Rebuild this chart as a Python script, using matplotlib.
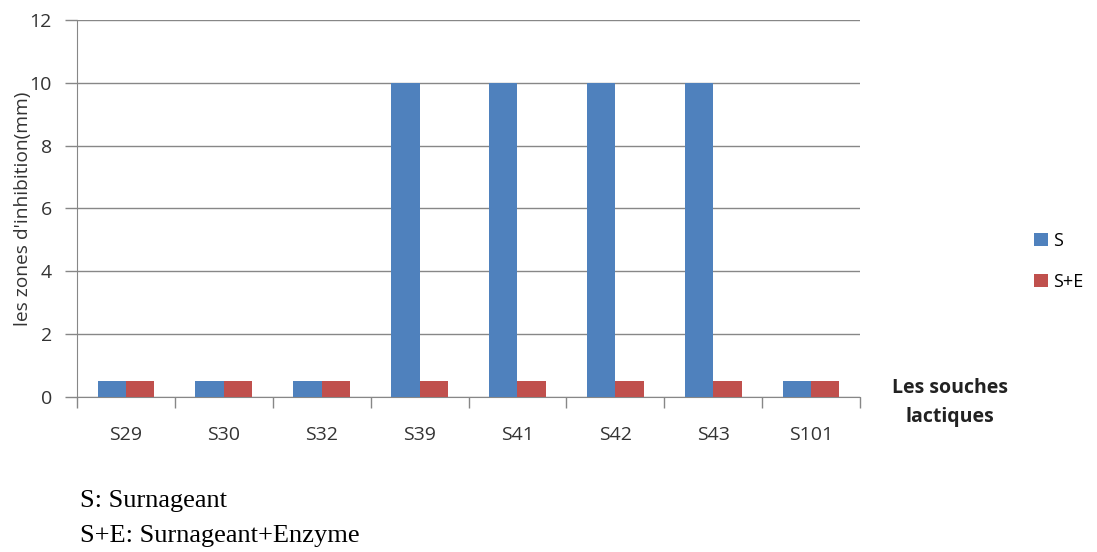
import matplotlib
matplotlib.use('Agg')
import matplotlib.pyplot as plt
import numpy as np

souches = ["S29", "S30", "S32", "S39", "S41", "S42", "S43", "S101"]
s_values = [0.5, 0.5, 0.5, 10, 10, 10, 10, 0.5]
se_values = [0.5, 0.5, 0.5, 0.5, 0.5, 0.5, 0.5, 0.5]
yticks = [0, 2, 4, 6, 8, 10, 12]

blue = "#4f81bd"
red = "#c0504d"
grid = "#878787"

plt.rcParams['font.family'] = ['Open Sans', 'DejaVu Sans']

fig = plt.figure(figsize=(10.97, 5.52), dpi=100)
ax = fig.add_axes([0.0702, 0.2808, 0.7138, 0.683])

x = np.arange(len(souches))
w = 0.29
ax.bar(x - w / 2, s_values, w, color=blue, label="S", zorder=3)
ax.bar(x + w / 2, se_values, w, color=red, label="S+E", zorder=3)

ax.set_xlim(-0.5, len(souches) - 0.5)
ax.set_ylim(0, 12)
ax.set_yticks(yticks)
ax.set_yticklabels([str(v) for v in yticks], fontsize=14, color="#333333")
ax.yaxis.grid(True, color=grid, linewidth=1, zorder=0)
ax.tick_params(axis='y', length=9, color=grid, width=1, pad=9)

ax.set_xticks(x)
ax.set_xticklabels(souches, fontsize=14, color="#333333")
ax.tick_params(axis='x', length=0, pad=21)
ax.set_xticks(np.arange(len(souches) + 1) - 0.5, minor=True)
ax.tick_params(axis='x', which='minor', length=8, color=grid, width=1)

for side in ['top', 'right']:
    ax.spines[side].set_visible(False)
for side in ['left', 'bottom']:
    ax.spines[side].set_color(grid)

ax.set_ylabel("les zones d'inhibition(mm)", fontsize=13.8, color="#333333")
ax.yaxis.set_label_coords(-0.057, 0.5)

ax.legend(loc='center left', bbox_to_anchor=(1.202, 0.36), frameon=False,
          fontsize=13, handlelength=0.75, handleheight=0.75, handletextpad=0.3,
          labelspacing=1.3)

fig.text(0.866, 0.27, "Les souches\nlactiques", fontsize=14, fontweight='bold',
         ha='center', va='center', color="#222222", linespacing=1.6)

fig.text(0.073, 0.061, "S: Surnageant\nS+E: Surnageant+Enzyme", fontsize=19,
         family='Liberation Serif', ha='left', va='center', linespacing=1.8)

fig.savefig("out.png", dpi=100)
